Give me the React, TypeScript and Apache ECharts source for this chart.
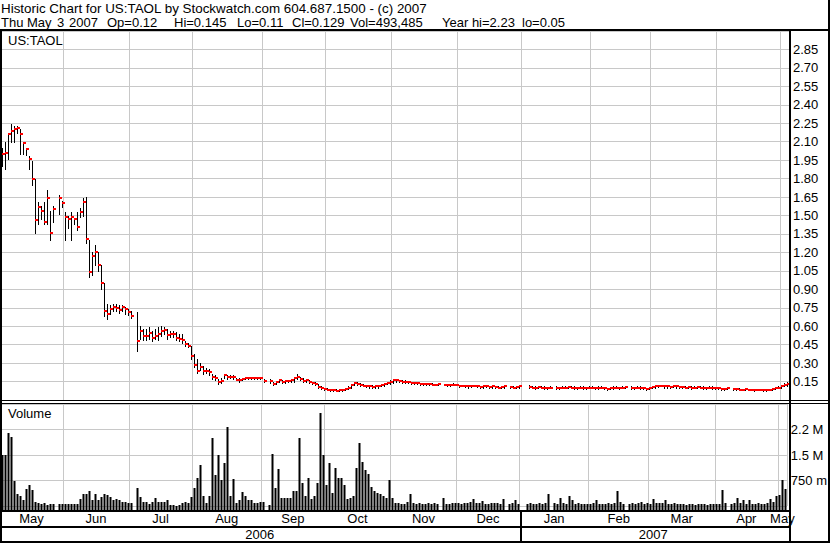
import { useEffect, useRef } from 'react';
import * as echarts from 'echarts';

const FONT = '"Liberation Sans", Arial, sans-serif';
const FS = 13;

// ---- calendar (weekdays 2006-05-03 .. 2007-05-03); market holidays are empty slots
const MONTHS = ['Jan', 'Feb', 'Mar', 'Apr', 'May', 'Jun', 'Jul', 'Aug', 'Sep', 'Oct', 'Nov', 'Dec'];

function buildDates(): string[] {
  const out: string[] = [];
  const d = new Date(Date.UTC(2006, 4, 3));
  const end = Date.UTC(2007, 4, 3);
  while (d.getTime() <= end) {
    const wd = d.getUTCDay();
    if (wd !== 0 && wd !== 6) out.push(d.toISOString().slice(0, 10));
    d.setUTCDate(d.getUTCDate() + 1);
  }
  return out;
}
const DATES = buildDates();

// ---- daily high / low / close (one line per month)
const HIGH = [
  2.05, 2.10, 2.17, 2.24, 2.23, 2.23, 2.20, 2.09, 2.05, 1.98, 1.94, 1.80, 1.61, 1.58, 1.61, 1.71, 1.54, 1.58, null, 1.67, 1.62,
  1.53, 1.50, 1.53, 1.48, 1.53, 1.56, 1.64, 1.65, 1.30, 1.20, 1.26, 1.20, 1.10, 0.95, 0.78, 0.77, 0.78, 0.78, 0.77, 0.77, 0.76, 0.74,
  0.72, null, 0.715, 0.60, 0.58, 0.58, 0.59, 0.56, 0.58, 0.59, 0.60, 0.59, 0.58, 0.56, 0.56, 0.55, 0.54, 0.54, 0.48, 0.46, 0.44,
  0.37, 0.33, 0.30, 0.28, 0.26, 0.25, 0.21, 0.20, 0.17, 0.18, 0.21, 0.20, 0.20, 0.20, 0.18, 0.18, 0.18, 0.19, 0.19, 0.19, 0.19, 0.185, 0.18,
  0.17, null, 0.17, 0.15, 0.15, 0.165, 0.16, 0.16, 0.16, 0.165, 0.18, 0.21, 0.19, 0.18, 0.165, 0.16, 0.15, 0.145, 0.13, 0.11, 0.10,
  0.10, 0.09, 0.09, 0.09, 0.085, 0.09, 0.10, 0.11, 0.13, 0.15, 0.15, 0.14, 0.13, 0.125, 0.12, 0.12, 0.12, 0.12, 0.13, 0.14, 0.15, 0.16,
  0.17, 0.17, 0.165, 0.165, 0.16, 0.155, 0.15, 0.145, 0.145, 0.14, 0.14, 0.14, 0.135, 0.135, 0.13, 0.135, null, 0.13, 0.13, 0.13, 0.135, 0.13,
  0.12, 0.12, 0.12, 0.115, 0.12, 0.12, 0.12, 0.115, 0.115, 0.12, 0.115, 0.115, 0.115, 0.11, 0.115, 0.115, null, 0.115, 0.11, 0.115, 0.115,
  null, null, 0.12, 0.115, 0.11, 0.115, 0.11, 0.11, 0.105, 0.11, null, 0.11, 0.105, 0.11, 0.11, 0.115, 0.11, 0.11, 0.105, 0.11, 0.11, 0.105, 0.11,
  0.11, 0.105, 0.11, 0.11, 0.105, 0.10, 0.105, 0.11, 0.11, 0.105, 0.11, 0.115, null, 0.11, 0.105, 0.11, 0.11, 0.105, 0.10, 0.105,
  0.115, 0.12, 0.12, 0.125, 0.12, 0.12, 0.115, 0.12, 0.12, 0.115, 0.115, 0.11, 0.115, 0.11, 0.11, 0.115, 0.11, 0.11, 0.105, 0.11, 0.11, 0.105,
  0.105, 0.10, 0.10, 0.10, null, 0.10, 0.095, 0.095, 0.09, 0.095, 0.09, 0.09, 0.09, 0.09, 0.09, 0.09, 0.085, 0.09, 0.10, 0.10, 0.11,
  0.12, 0.14, 0.145,
];
const LOW = [
  1.90, 1.88, 1.96, 2.10, 2.10, 2.17, 2.00, 2.00, 1.99, 1.88, 1.75, 1.36, 1.43, 1.47, 1.43, 1.43, 1.30, 1.45, null, 1.51, 1.57,
  1.30, 1.40, 1.30, 1.43, 1.38, 1.49, 1.50, 1.28, 1.00, 1.02, 1.10, 1.05, 0.90, 0.68, 0.66, 0.70, 0.72, 0.72, 0.71, 0.72, 0.70, 0.69,
  0.67, null, 0.40, 0.50, 0.49, 0.49, 0.50, 0.48, 0.50, 0.49, 0.52, 0.54, 0.50, 0.51, 0.51, 0.49, 0.48, 0.46, 0.44, 0.43, 0.33,
  0.27, 0.22, 0.24, 0.21, 0.22, 0.20, 0.17, 0.16, 0.13, 0.14, 0.18, 0.17, 0.18, 0.17, 0.16, 0.15, 0.16, 0.17, 0.17, 0.17, 0.17, 0.17, 0.17,
  0.15, null, 0.14, 0.12, 0.13, 0.15, 0.14, 0.14, 0.145, 0.15, 0.15, 0.17, 0.16, 0.15, 0.15, 0.14, 0.13, 0.12, 0.10, 0.09, 0.08,
  0.08, 0.075, 0.07, 0.07, 0.07, 0.075, 0.08, 0.09, 0.10, 0.12, 0.12, 0.11, 0.11, 0.105, 0.10, 0.10, 0.10, 0.10, 0.11, 0.11, 0.13, 0.13,
  0.14, 0.15, 0.15, 0.14, 0.14, 0.14, 0.13, 0.13, 0.13, 0.125, 0.125, 0.12, 0.12, 0.12, 0.12, 0.12, null, 0.12, 0.115, 0.115, 0.12, 0.12,
  0.105, 0.11, 0.105, 0.10, 0.105, 0.11, 0.105, 0.10, 0.10, 0.105, 0.10, 0.10, 0.10, 0.095, 0.10, 0.10, null, 0.10, 0.095, 0.10, 0.10,
  null, null, 0.10, 0.095, 0.09, 0.10, 0.095, 0.09, 0.09, 0.095, null, 0.09, 0.09, 0.095, 0.095, 0.10, 0.095, 0.09, 0.09, 0.095, 0.09, 0.09, 0.095,
  0.095, 0.09, 0.09, 0.095, 0.09, 0.085, 0.09, 0.09, 0.095, 0.09, 0.095, 0.10, null, 0.09, 0.09, 0.095, 0.09, 0.09, 0.085, 0.09,
  0.10, 0.10, 0.105, 0.11, 0.10, 0.10, 0.10, 0.105, 0.10, 0.10, 0.095, 0.095, 0.10, 0.09, 0.095, 0.10, 0.095, 0.09, 0.09, 0.095, 0.09, 0.09,
  0.09, 0.085, 0.085, 0.09, null, 0.085, 0.08, 0.08, 0.08, 0.085, 0.08, 0.08, 0.075, 0.08, 0.08, 0.075, 0.075, 0.08, 0.085, 0.09, 0.095,
  0.10, 0.11, 0.11,
];
const CLOSE = [
  2.00, 2.01, 2.16, 2.19, 2.20, 2.21, 2.16, 2.09, 2.04, 1.96, 1.80, 1.46, 1.57, 1.54, 1.45, 1.64, 1.36, 1.55, null, 1.64, 1.60,
  1.49, 1.47, 1.49, 1.47, 1.41, 1.53, 1.61, 1.31, 1.04, 1.17, 1.20, 1.10, 0.95, 0.72, 0.70, 0.74, 0.76, 0.75, 0.73, 0.756, 0.743, 0.715,
  0.68, null, 0.48, 0.56, 0.52, 0.52, 0.545, 0.507, 0.52, 0.533, 0.56, 0.566, 0.525, 0.533, 0.539, 0.503, 0.495, 0.49, 0.452, 0.44, 0.357,
  0.283, 0.235, 0.267, 0.235, 0.235, 0.226, 0.186, 0.181, 0.145, 0.153, 0.20, 0.186, 0.19, 0.186, 0.164, 0.164, 0.173, 0.178, 0.178, 0.178, 0.178, 0.178, 0.178,
  0.153, null, 0.153, 0.132, 0.145, 0.159, 0.145, 0.151, 0.151, 0.159, 0.175, 0.186, 0.173, 0.153, 0.159, 0.145, 0.137, 0.132, 0.104, 0.095, 0.09,
  0.085, 0.08, 0.08, 0.075, 0.08, 0.085, 0.09, 0.10, 0.12, 0.14, 0.13, 0.12, 0.115, 0.11, 0.11, 0.105, 0.11, 0.115, 0.12, 0.13, 0.14, 0.15,
  0.16, 0.16, 0.155, 0.15, 0.15, 0.145, 0.14, 0.135, 0.135, 0.13, 0.13, 0.13, 0.13, 0.125, 0.125, 0.13, null, 0.125, 0.12, 0.125, 0.125, 0.125,
  0.11, 0.115, 0.11, 0.11, 0.11, 0.115, 0.11, 0.105, 0.11, 0.11, 0.105, 0.11, 0.105, 0.10, 0.105, 0.11, null, 0.105, 0.10, 0.105, 0.11,
  null, null, 0.105, 0.10, 0.10, 0.105, 0.10, 0.10, 0.095, 0.10, null, 0.10, 0.095, 0.10, 0.10, 0.105, 0.10, 0.10, 0.095, 0.10, 0.10, 0.095, 0.10,
  0.10, 0.095, 0.10, 0.10, 0.095, 0.09, 0.095, 0.10, 0.10, 0.095, 0.10, 0.105, null, 0.10, 0.095, 0.10, 0.10, 0.095, 0.09, 0.095,
  0.105, 0.11, 0.11, 0.115, 0.11, 0.11, 0.105, 0.11, 0.11, 0.105, 0.105, 0.10, 0.105, 0.10, 0.10, 0.105, 0.10, 0.10, 0.095, 0.10, 0.10, 0.095,
  0.095, 0.09, 0.09, 0.095, null, 0.09, 0.09, 0.085, 0.085, 0.09, 0.085, 0.085, 0.08, 0.085, 0.085, 0.08, 0.08, 0.085, 0.09, 0.095, 0.10,
  0.11, 0.12, 0.129,
];
// ---- daily volume, thousands of shares
const VOLUME_K = [
  1500, 1500, 2137, 2038, 735, 353, 294, 176, 490, 617, 470, 108, 98, 60, 78, 40, 60, 70, null, 60, 50,
  60, 70, 50, 60, 60, 196, 353, 353, 451, 176, 353, 176, 274, 353, 320, 270, 176, 196, 176, 130, 110, 98,
  80, null, 520, 270, 130, 110, 70, 130, 225, 130, 110, 130, 176, 40, 40, 10, 20, 98, 110, 80, 274,
  520, 813, 1205, 300, 80, 300, 1990, 911, 1500, 764, 1273, 2314, 300, 785, 80, 176, 420, 300, 176, 176, 100, 100, 130,
  130, null, 40, 1529, 520, 1088, 250, 250, 250, 250, 451, 451, 1990, 685, 300, 813, 200, 300, 666, 2743, 1500,
  617, 1273, 376, 1108, 813, 813, 617, 200, 250, 300, 1108, 1861, 1280, 1069, 940, 549, 451, 376, 353, 300, 250, 764,
  250, 100, 80, 60, 70, 120, 353, 80, 60, 90, 60, 70, 100, 50, 80, 60, null, 240, 70, 60, 90, 80,
  100, 60, 80, 90, 120, 200, 90, 80, 150, 70, 60, 80, 100, 90, 60, 200, null, 50, 90, 180, 60,
  null, null, 60, 90, 50, 70, 100, 60, 80, 353, null, 90, 60, 250, 80, 60, 300, 180, 70, 80, 60, 50, 70,
  60, 90, 180, 70, 50, 60, 80, 60, 100, 450, 120, 60, null, 60, 80, 60, 90, 120, 70, 80,
  60, 200, 100, 80, 90, 170, 60, 70, 80, 60, 50, 60, 40, 50, 60, 40, 50, 60, 50, 40, 60, 50,
  70, 60, 470, 80, null, 60, 90, 235, 80, 176, 60, 176, 60, 70, 90, 60, 70, 80, 200, 120, 280,
  323, 764, 493.5,
];

const HEADER_1 = 'Historic Chart for US:TAOL by Stockwatch.com 604.687.1500 - (c) 2007';
const HEADER_2 = ['Thu', 'May', '3', '2007', 'Op=0.12', 'Hi=0.145', 'Lo=0.11', 'Cl=0.129', 'Vol=493,485', 'Year hi=2.23', 'lo=0.05'];
const HEADER_2_X = [1, 27, 57, 69, 107, 174, 237, 292, 350, 442, 522];

const GRID_COLOR = '#c8c8c8';

export default function App() {
  const ref = useRef<HTMLDivElement>(null);
  useEffect(() => {
    if (!ref.current) return;
    const chart = echarts.init(ref.current, null, { renderer: 'svg' });
    const n = Math.min(DATES.length, HIGH.length, LOW.length, CLOSE.length, VOLUME_K.length);
    const dates = DATES.slice(0, n);

    const monthStarts = new Set<number>();
    const monthRanges: { name: string; first: number; last: number }[] = [];
    const yearRanges: { name: string; first: number; last: number }[] = [];
    dates.forEach((d, i) => {
      const ym = d.slice(0, 7);
      const prev = i > 0 ? dates[i - 1].slice(0, 7) : '';
      if (ym !== prev) {
        if (i > 0) monthStarts.add(i);
        monthRanges.push({ name: MONTHS[parseInt(d.slice(5, 7), 10) - 1], first: i, last: i });
      } else monthRanges[monthRanges.length - 1].last = i;
      const y = d.slice(0, 4);
      if (i === 0 || y !== dates[i - 1].slice(0, 4)) yearRanges.push({ name: y, first: i, last: i });
      else yearRanges[yearRanges.length - 1].last = i;
    });

    const priceData: number[][] = [];
    const volData: number[][] = [];
    for (let i = 0; i < n; i++) {
      if (HIGH[i] != null && LOW[i] != null && CLOSE[i] != null) priceData.push([i, HIGH[i] as number, LOW[i] as number, CLOSE[i] as number]);
      if (VOLUME_K[i] != null) volData.push([i, VOLUME_K[i] as number]);
    }

    const xAxisBase = (gi: number) => ({
      type: 'category',
      gridIndex: gi,
      data: dates,
      boundaryGap: true,
      axisLine: { show: false },
      axisTick: { show: false },
      axisLabel: { show: false },
      splitLine: { show: true, interval: (idx: number) => monthStarts.has(idx), lineStyle: { color: GRID_COLOR, width: 1 } },
    });

    const labelStyle = { color: '#000', fontSize: FS, fontFamily: FONT, margin: 4 };

    chart.setOption({
      animation: false,
      grid: [
        { left: -2, right: 41, top: 31, height: 369 },
        { left: -2, right: 41, top: 404, height: 102 },
      ],
      xAxis: [xAxisBase(0), xAxisBase(1)],
      yAxis: [
        {
          type: 'value', gridIndex: 0, position: 'right', min: 0, max: 3, interval: 0.15,
          axisLine: { show: false }, axisTick: { show: false },
          splitLine: { show: true, lineStyle: { color: GRID_COLOR, width: 1 } },
          axisLabel: { ...labelStyle, showMinLabel: false, showMaxLabel: false, formatter: (v: number) => v.toFixed(2) },
        },
        {
          type: 'value', gridIndex: 1, position: 'right', min: 0, max: 3000, interval: 750,
          axisLine: { show: false }, axisTick: { show: false },
          splitLine: { show: true, lineStyle: { color: GRID_COLOR, width: 1 } },
          axisLabel: {
            ...labelStyle, showMinLabel: false, showMaxLabel: false,
            formatter: (v: number) => (v === 750 ? '750 m' : v === 1500 ? '1.5 M' : v === 2250 ? '2.2 M' : ''),
          },
        },
      ],
      series: [
        {
          type: 'custom', xAxisIndex: 0, yAxisIndex: 0, data: priceData, encode: { x: 0, y: [1, 2, 3] },
          renderItem: (_p: any, api: any) => {
            const i = api.value(0);
            const pH = api.coord([i, api.value(1)]);
            const pL = api.coord([i, api.value(2)]);
            const pC = api.coord([i, api.value(3)]);
            const x = Math.round(pH[0]) + 0.5;
            return {
              type: 'group',
              children: [
                { type: 'line', shape: { x1: x, y1: Math.round(pH[1]), x2: x, y2: Math.round(pL[1]) + 1 }, style: { stroke: '#000', lineWidth: 1 } },
                { type: 'rect', shape: { x: x - 0.5, y: Math.round(pC[1]) - 1, width: 3, height: 2 }, style: { fill: '#ff0000' } },
              ],
            };
          },
        },
        {
          type: 'custom', xAxisIndex: 1, yAxisIndex: 1, data: volData, encode: { x: 0, y: 1 },
          renderItem: (_p: any, api: any) => {
            const i = api.value(0);
            const top = api.coord([i, api.value(1)]);
            const base = api.coord([i, 0]);
            const x = Math.round(top[0]) - 0.5;
            const y = Math.round(top[1]);
            return { type: 'rect', shape: { x, y, width: 2, height: Math.round(base[1]) + 4 - y }, style: { fill: '#000' } };
          },
        },
      ],
    });

    const px = (i: number) => chart.convertToPixel({ xAxisIndex: 1 }, i) as number;
    const band = px(1) - px(0);
    const leftEdge = px(0) - band / 2;
    const rightEdge = px(n - 1) + band / 2;
    const yearBoundary = yearRanges.length > 1 ? px(yearRanges[1].first) - band / 2 : rightEdge;

    const txt = (text: string, x: number, y: number, align = 'left', size = FS) => ({
      type: 'text', z: 110, x, y,
      style: { text, fill: '#000', fontSize: size, fontFamily: FONT, textAlign: align, textVerticalAlign: 'middle', verticalAlign: 'middle' },
    });
    const rect = (x: number, y: number, w: number, h: number) => ({
      type: 'rect', z: 100, shape: { x, y, width: w, height: h }, style: { fill: '#000' },
    });

    const graphics: any[] = [
      txt(HEADER_1, 1, 8, 'left', 13.4),
      ...HEADER_2.map((t, k) => txt(t, HEADER_2_X[k], 22)),
      txt('US:TAOL', 8, 40),
      txt('Volume', 8, 413),
      rect(0, 29, 830, 2),
      rect(0, 400, 830, 1),
      rect(0, 403, 830, 1),
      rect(0, 510, 789, 2),
      rect(0, 526, 789, 2),
      rect(0, 541, 830, 2),
      rect(0, 29, 2, 514),
      rect(789, 29, 2, 514),
      rect(828, 0, 2, 543),
      rect(Math.round(yearBoundary), 510, 2, 33),
      ...monthRanges.map((m) => {
        const a = Math.max(px(m.first) - band / 2, leftEdge);
        const b = px(m.last) + band / 2;
        return txt(m.name, (a + b) / 2, 518, 'center');
      }),
      ...yearRanges.map((yr, k) => {
        const a = k === 0 ? Math.max(leftEdge, 0) : yearBoundary;
        const b = k === yearRanges.length - 1 ? rightEdge : yearBoundary;
        return txt(yr.name, (a + b) / 2, 534, 'center');
      }),
    ];
    chart.setOption({ graphic: graphics });

    return () => chart.dispose();
  }, []);
  return <div ref={ref} style={{ width: 830, height: 543, position: 'absolute', left: 0, top: 0, background: '#fff' }} />;
}
